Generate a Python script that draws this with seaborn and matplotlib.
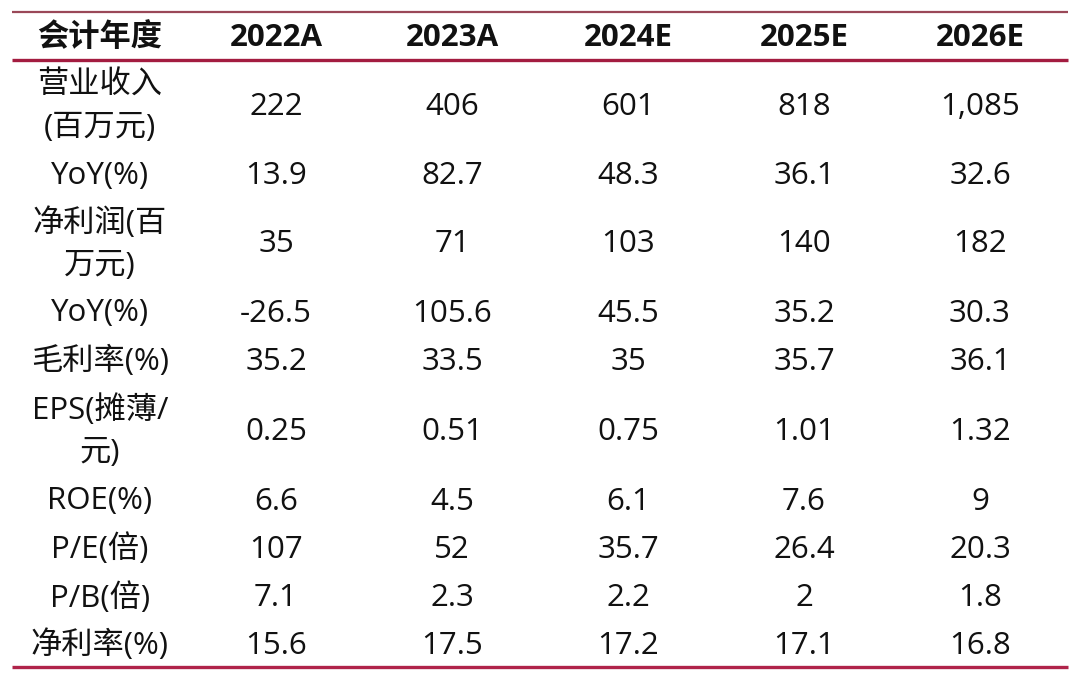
import matplotlib
matplotlib.use("Agg")
import matplotlib.pyplot as plt
import seaborn as sns

sns.set_theme(style="white")
plt.rcParams['font.family'] = ['Open Sans', 'Noto Sans CJK SC', 'DejaVu Sans']

header = ["会计年度", "2022A", "2023A", "2024E", "2025E", "2026E"]
row_labels = ["营业收入\n(百万元)", "YoY(%)", "净利润(百\n万元)", "YoY(%)", "毛利率(%)",
              "EPS(摊薄/\n元)", "ROE(%)", "P/E(倍)", "P/B(倍)", "净利率(%)"]
col_2022A = ["222", "13.9", "35", "-26.5", "35.2", "0.25", "6.6", "107", "7.1", "15.6"]
col_2023A = ["406", "82.7", "71", "105.6", "33.5", "0.51", "4.5", "52", "2.3", "17.5"]
col_2024E = ["601", "48.3", "103", "45.5", "35", "0.75", "6.1", "35.7", "2.2", "17.2"]
col_2025E = ["818", "36.1", "140", "35.2", "35.7", "1.01", "7.6", "26.4", "2", "17.1"]
col_2026E = ["1,085", "32.6", "182", "30.3", "36.1", "1.32", "9", "20.3", "1.8", "16.8"]
columns = [col_2022A, col_2023A, col_2024E, col_2025E, col_2026E]

W, H = 1080, 681
fig = plt.figure(figsize=(W / 100, H / 100), dpi=100)
ax = fig.add_axes([0, 0, 1, 1])
ax.set_xlim(0, W)
ax.set_ylim(H, 0)
ax.axis("off")

col_x = [100, 276, 452, 628, 804, 980]
top, head_bottom = 12, 60
row_heights = [90, 48, 89, 49, 47, 93, 47, 49, 48, 47]

fs = 22.5
# header
for x, t in zip(col_x, header):
    ax.text(x, (top + head_bottom) / 2 + 2, t, ha="center", va="center",
            fontsize=fs, fontweight="bold", color="#111111")

y = head_bottom
for i, h in enumerate(row_heights):
    cy = y + h / 2 + 2
    ax.text(col_x[0], cy, row_labels[i], ha="center", va="center",
            fontsize=fs, color="#111111", linespacing=1.52)
    for j, col in enumerate(columns):
        ax.text(col_x[j + 1], cy, col[i], ha="center", va="center",
                fontsize=fs, color="#111111")
    y += h

ax.plot([12, 1068], [top, top], color="#9a4858", lw=1.6, solid_capstyle="butt")
ax.plot([12, 1068], [head_bottom, head_bottom], color="#a31c40", lw=2.4, solid_capstyle="butt")
ax.plot([12, 1068], [y, y], color="#b0244a", lw=2.4, solid_capstyle="butt")

fig.savefig("out.png", dpi=100)
